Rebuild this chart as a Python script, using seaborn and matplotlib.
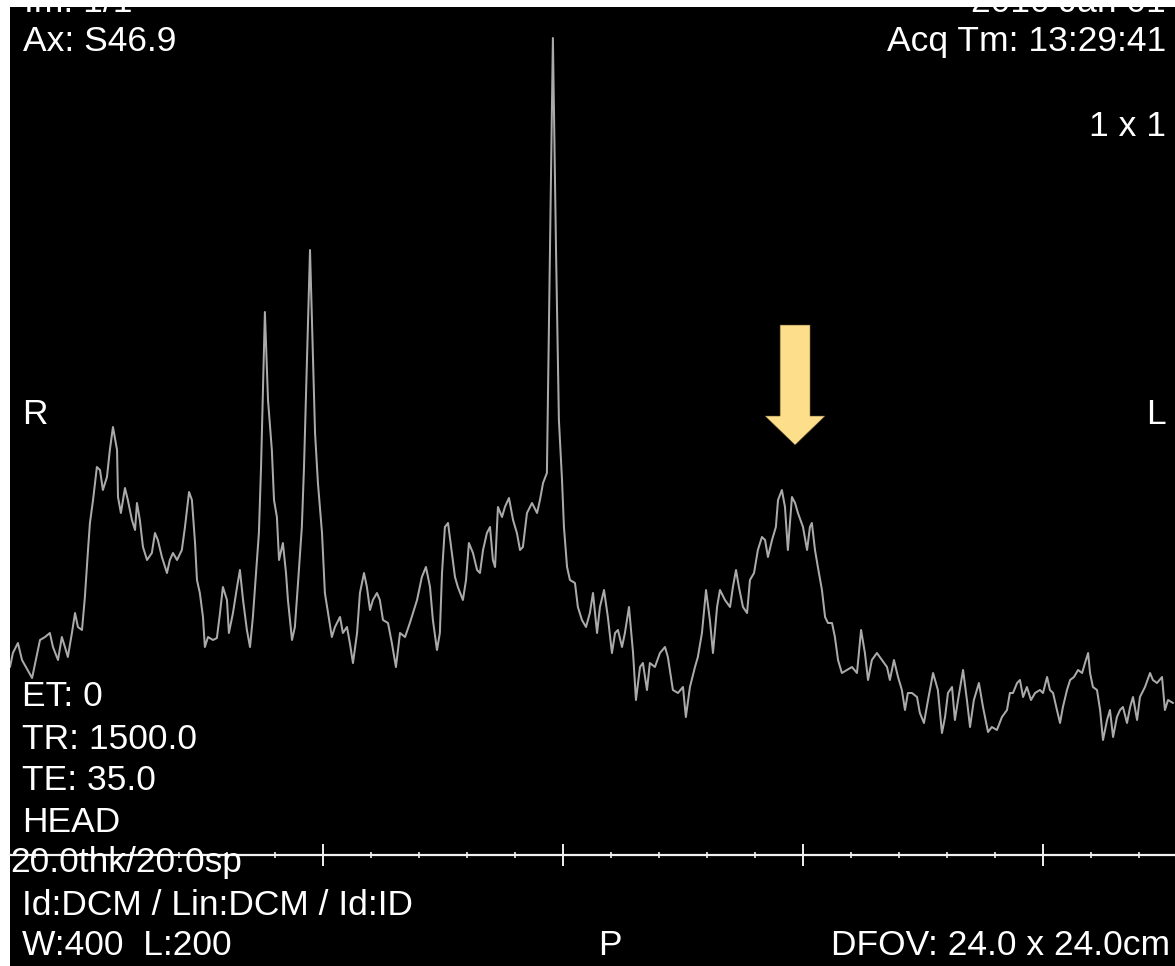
import matplotlib
matplotlib.use("Agg")
import matplotlib.pyplot as plt
import matplotlib.transforms as mtransforms
from matplotlib.patches import Polygon
from matplotlib.ticker import FixedLocator, MultipleLocator, NullFormatter
import pandas as pd
import seaborn as sns

# ---- spectrum data (chemical shift in ppm, signal in arbitrary units) ----
ppm = [
    4.304, 4.292, 4.271, 4.254, 4.212, 4.179, 4.158, 4.138, 4.125, 4.104,
    4.088, 4.075, 4.063, 4.046, 4.033, 4.021, 4.004, 3.992, 3.979, 3.971,
    3.958, 3.942, 3.929, 3.917, 3.900, 3.888, 3.875, 3.858, 3.854, 3.842,
    3.825, 3.813, 3.796, 3.783, 3.775, 3.763, 3.750, 3.733, 3.713, 3.700,
    3.688, 3.671, 3.650, 3.638, 3.625, 3.608, 3.588, 3.575, 3.558, 3.546,
    3.533, 3.525, 3.513, 3.500, 3.492, 3.479, 3.458, 3.442, 3.429, 3.417,
    3.400, 3.392, 3.375, 3.358, 3.346, 3.333, 3.317, 3.304, 3.292, 3.279,
    3.267, 3.258, 3.242, 3.229, 3.213, 3.204, 3.192, 3.183, 3.171, 3.167,
    3.154, 3.146, 3.129, 3.117, 3.104, 3.088, 3.079, 3.054, 3.033, 3.021,
    3.004, 2.992, 2.979, 2.963, 2.950, 2.929, 2.917, 2.900, 2.888, 2.875,
    2.858, 2.846, 2.829, 2.817, 2.804, 2.792, 2.775, 2.763, 2.750, 2.729,
    2.713, 2.696, 2.679, 2.658, 2.638, 2.608, 2.588, 2.571, 2.554, 2.542,
    2.525, 2.513, 2.504, 2.492, 2.479, 2.463, 2.450, 2.438, 2.417, 2.404,
    2.392, 2.375, 2.358, 2.346, 2.333, 2.317, 2.304, 2.292, 2.283, 2.271,
    2.254, 2.242, 2.225, 2.208, 2.192, 2.179, 2.167, 2.150, 2.129, 2.108,
    2.096, 2.083, 2.067, 2.054, 2.042, 2.029, 2.017, 2.004, 1.996, 1.983,
    1.971, 1.950, 1.938, 1.921, 1.904, 1.888, 1.875, 1.858, 1.846, 1.829,
    1.813, 1.796, 1.783, 1.771, 1.754, 1.742, 1.725, 1.708, 1.696, 1.679,
    1.667, 1.650, 1.638, 1.617, 1.596, 1.575, 1.563, 1.542, 1.521, 1.500,
    1.488, 1.471, 1.450, 1.438, 1.421, 1.404, 1.388, 1.375, 1.358, 1.346,
    1.325, 1.304, 1.292, 1.279, 1.267, 1.250, 1.233, 1.221, 1.204, 1.188,
    1.171, 1.158, 1.146, 1.129, 1.113, 1.104, 1.088, 1.075, 1.063, 1.046,
    1.033, 1.021, 1.000, 0.983, 0.971, 0.963, 0.950, 0.938, 0.921, 0.908,
    0.896, 0.879, 0.867, 0.854, 0.838, 0.817, 0.796, 0.775, 0.758, 0.742,
    0.729, 0.713, 0.692, 0.671, 0.650, 0.638, 0.621, 0.604, 0.588, 0.575,
    0.563, 0.546, 0.525, 0.513, 0.496, 0.479, 0.458, 0.438, 0.421, 0.408,
    0.396, 0.379, 0.367, 0.354, 0.333, 0.317, 0.304, 0.288, 0.267, 0.250,
    0.229, 0.213, 0.192, 0.171, 0.150, 0.138, 0.125, 0.108, 0.096, 0.083,
    0.067, 0.050, 0.033, 0.013, 0.000, -0.017, -0.029, -0.042, -0.058, -0.071,
    -0.083, -0.100, -0.113, -0.129, -0.146, -0.163, -0.175, -0.188, -0.196, -0.208,
    -0.225, -0.238, -0.250, -0.267, -0.279, -0.292, -0.308, -0.321, -0.333, -0.350,
    -0.363, -0.375, -0.392, -0.404, -0.425, -0.446, -0.458, -0.475, -0.496, -0.508,
    -0.521, -0.542,
]
signal = [
    188, 202, 212, 195, 177, 215, 218, 222, 208, 195,
    218, 208, 198, 222, 242, 228, 225, 258, 305, 332,
    355, 388, 385, 365, 378, 405, 428, 405, 358, 342,
    367, 355, 335, 325, 352, 335, 308, 295, 302, 322,
    315, 298, 282, 295, 302, 295, 305, 328, 363, 355,
    312, 275, 262, 238, 208, 218, 215, 217, 242, 268,
    255, 222, 242, 268, 285, 255, 225, 208, 238, 282,
    322, 388, 543, 455, 405, 355, 338, 295, 308, 312,
    282, 255, 215, 228, 272, 328, 388, 605, 422, 372,
    322, 262, 242, 218, 228, 238, 222, 228, 212, 192,
    222, 262, 282, 268, 245, 255, 262, 255, 235, 232,
    212, 188, 222, 218, 232, 255, 278, 288, 268, 235,
    205, 222, 282, 328, 332, 302, 278, 268, 255, 275,
    312, 302, 285, 282, 305, 322, 328, 295, 288, 348,
    338, 348, 357, 335, 322, 305, 308, 342, 352, 342,
    355, 372, 382, 605, 817, 605, 435, 375, 328, 288,
    275, 272, 248, 235, 228, 242, 262, 222, 248, 265,
    238, 202, 222, 225, 208, 222, 248, 202, 155, 188,
    192, 165, 192, 188, 202, 208, 198, 165, 162, 168,
    138, 168, 188, 198, 222, 265, 235, 202, 248, 265,
    255, 248, 268, 285, 268, 248, 242, 275, 282, 305,
    318, 315, 298, 315, 328, 355, 365, 348, 305, 358,
    352, 342, 328, 305, 328, 332, 305, 288, 265, 238,
    232, 232, 218, 195, 182, 185, 188, 182, 225, 202,
    175, 195, 202, 195, 188, 175, 195, 178, 165, 145,
    162, 162, 158, 142, 132, 155, 182, 165, 122, 138,
    162, 168, 135, 155, 185, 155, 128, 155, 172, 148,
    123, 128, 125, 138, 145, 162, 162, 172, 175, 158,
    168, 155, 162, 165, 162, 178, 165, 162, 145, 132,
    148, 165, 175, 178, 185, 182, 192, 202, 182, 168,
    165, 145, 115, 135, 145, 118, 138, 145, 148, 132,
    148, 158, 135, 158, 168, 182, 175, 172, 178, 145,
    155, 152,
]

major_ticks = [3.0, 2.0, 1.0, 0.0]
arrow_ppm = 1.033      # annotated hump
arrow_tip_signal = 410

ppm_range = (4.304, -0.550)
signal_range = (-111, 848)

# ---- figure ----
W, H = 1175, 966
sns.set_theme(style="dark")
plt.rcParams["font.family"] = ["Liberation Sans", "DejaVu Sans"]

fig = plt.figure(figsize=(W / 100, H / 100), dpi=100, facecolor="white")
ax = fig.add_axes([10 / W, 0, (W - 10) / W, (H - 7) / H])
ax.set_facecolor("black")

df = pd.DataFrame({"ppm": ppm, "signal": signal})
sns.lineplot(data=df, x="ppm", y="signal", sort=False, estimator=None,
             color="#AAAAAA", linewidth=1.45, ax=ax)

ax.set_xlim(*ppm_range)
ax.set_ylim(*signal_range)
ax.set_xlabel("")
ax.set_ylabel("")
ax.grid(False)

# ruler = bottom spine moved to zero signal
for s in ["top", "right", "left"]:
    ax.spines[s].set_visible(False)
ax.spines["bottom"].set_visible(True)
ax.spines["bottom"].set_position(("data", 0))
ax.spines["bottom"].set_color("#F2F2F2")
ax.spines["bottom"].set_linewidth(1.6)
ax.xaxis.set_major_locator(FixedLocator(major_ticks))
ax.xaxis.set_minor_locator(MultipleLocator(0.2))
ax.xaxis.set_major_formatter(NullFormatter())
ax.xaxis.set_minor_formatter(NullFormatter())
ax.tick_params(axis="x", which="major", direction="inout", length=16,
               width=1.4, color="#F2F2F2", bottom=True)
ax.tick_params(axis="x", which="minor", direction="inout", length=5,
               width=1.2, color="#F2F2F2", bottom=True)
ax.set_yticks([])

# arrow (shape in pixels, anchored at data point)
shape_px = [(0, 0), (-30, 29), (-15, 29), (-15, 120), (15, 120), (15, 29), (30, 29)]
shape_in = [(x / 100, y / 100) for x, y in shape_px]
tr = fig.dpi_scale_trans + mtransforms.ScaledTranslation(arrow_ppm, arrow_tip_signal, ax.transData)
ax.add_patch(Polygon(shape_in, closed=True, facecolor="#FDDF8B",
                     edgecolor="#5a4a2a", linewidth=0.4, transform=tr, zorder=5))

# overlay texts
fs = 25.5
def put(x, y, s, ha="left", size=fs):
    fig.text(x / W, 1 - y / H, s, ha=ha, va="baseline", color="white",
             fontsize=size, zorder=10)

put(24, 12, "Im: 1/1")
put(1166, 12, "2010 Jan 01", ha="right")
put(23, 51, "Ax: S46.9")
put(1166, 51, "Acq Tm: 13:29:41", ha="right")
put(1166, 136, "1 x 1", ha="right")
put(22, 424, "R")
put(1166, 424, "L", ha="right")
put(22, 706, "ET: 0")
put(22, 749, "TR: 1500.0")
put(22, 790, "TE: 35.0")
put(22, 832, "HEAD")
put(10, 872, "20.0thk/20.0sp")
put(22, 915, "Id:DCM / Lin:DCM / Id:ID")
put(22, 955, "W:400  L:200")
put(598, 955, "P")
put(1170, 955, "DFOV: 24.0 x 24.0cm", ha="right")

fig.savefig("out.png", dpi=100, facecolor="white")
